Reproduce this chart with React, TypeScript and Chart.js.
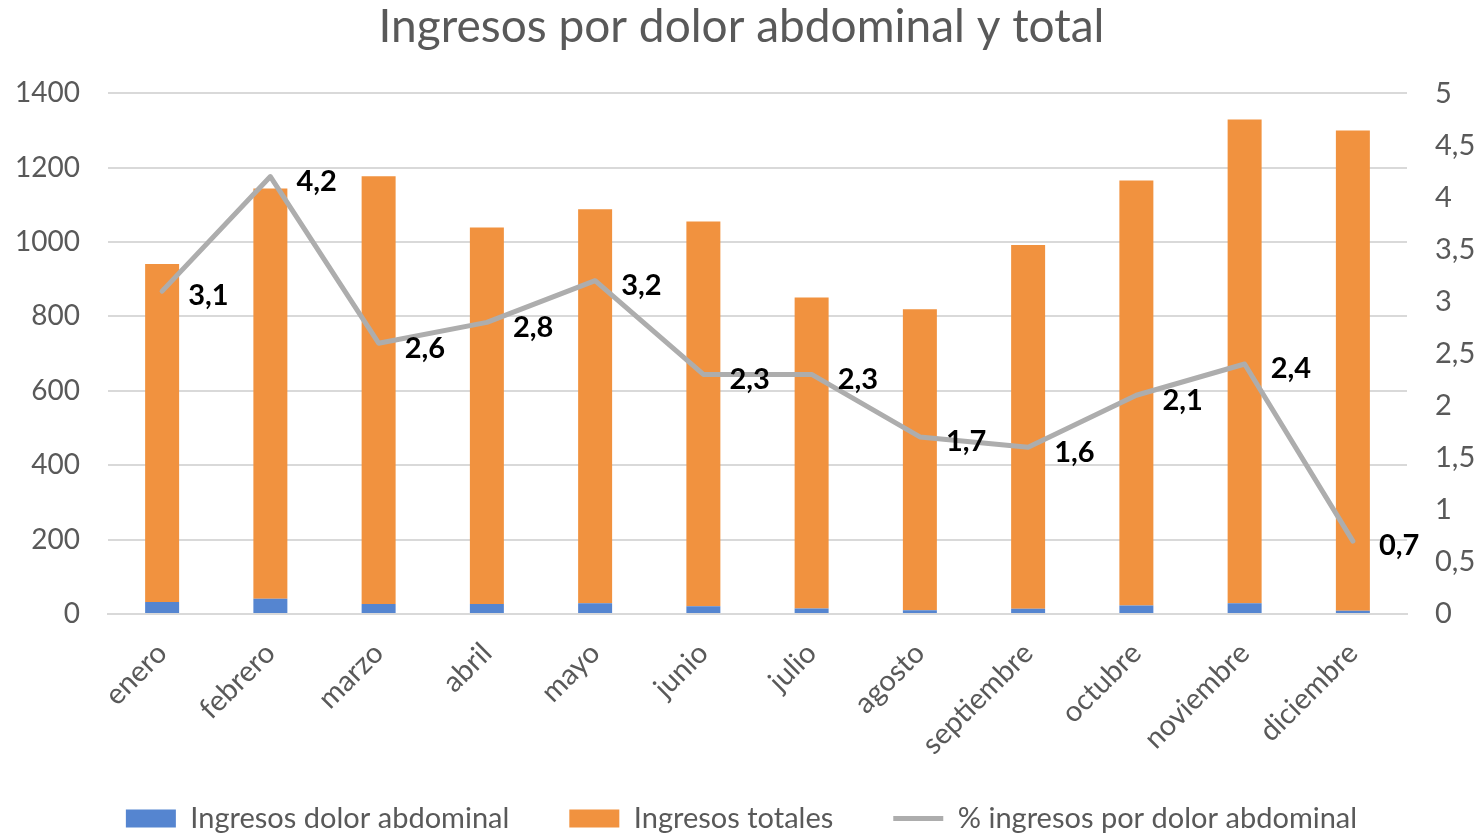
import React, { useEffect, useRef } from "react";
import { Chart, registerables } from "chart.js";

Chart.register(...registerables);

const months = ["enero", "febrero", "marzo", "abril", "mayo", "junio", "julio", "agosto", "septiembre", "octubre", "noviembre", "diciembre"];
const abdominal = [32, 41, 27, 27, 29, 21, 15, 10, 14, 23, 29, 9];
const totales = [909, 1103, 1150, 1012, 1059, 1034, 836, 809, 978, 1142, 1300, 1291];
const porcentaje = [3.1, 4.2, 2.6, 2.8, 3.2, 2.3, 2.3, 1.7, 1.6, 2.1, 2.4, 0.7];
const leftTicks = [0, 200, 400, 600, 800, 1000, 1200, 1400];
const rightTicks = [0, 0.5, 1, 1.5, 2, 2.5, 3, 3.5, 4, 4.5, 5];

const FONT = "Lato, 'Open Sans', sans-serif";
const GREY_TXT = "#595959";

const fmt = (v: number) => String(v).replace(".", ",");

const labelPlugin = {
  id: "lineLabels",
  afterLayout(chart: any) {
    // let rotated month labels extend below the axis box without being clipped
    const x = chart.scales.x;
    if (x) x.bottom = x.top + 220;
  },
  afterDatasetsDraw(chart: any) {
    const meta = chart.getDatasetMeta(2);
    const ds = chart.data.datasets[2];
    const ctx = chart.ctx;
    ctx.save();
    ctx.font = `bold 29px ${FONT}`;
    ctx.fillStyle = "#000000";
    ctx.textAlign = "left";
    ctx.textBaseline = "middle";
    meta.data.forEach((pt: any, i: number) => {
      ctx.fillText(fmt(ds.data[i]), pt.x + 26, pt.y + 5);
    });
    ctx.restore();
  },
};

export default function App() {
  const ref = useRef<HTMLCanvasElement>(null);
  useEffect(() => {
    if (!ref.current) return;
    const chart = new Chart(ref.current, {
      type: "bar",
      data: {
        labels: months,
        datasets: [
          {
            label: "Ingresos dolor abdominal",
            data: abdominal,
            backgroundColor: "#5585D0",
            yAxisID: "y",
            stack: "s",
            order: 1,
            pointStyle: "rect",
            barPercentage: 0.314,
            categoryPercentage: 1,
          } as any,
          {
            label: "Ingresos totales",
            data: totales,
            backgroundColor: "#F1923F",
            yAxisID: "y",
            stack: "s",
            order: 1,
            pointStyle: "rect",
            barPercentage: 0.314,
            categoryPercentage: 1,
          } as any,
          {
            type: "line",
            label: "% ingresos por dolor abdominal",
            data: porcentaje,
            borderColor: "#ADADAD",
            backgroundColor: "#ADADAD",
            borderWidth: 5,
            pointRadius: 0,
            pointStyle: "line",
            borderCapStyle: "round",
            borderJoinStyle: "round",
            yAxisID: "y1",
            order: 0,
            tension: 0,
          } as any,
        ],
      },
      options: {
        animation: false,
        responsive: false,
        layout: { padding: { left: 0, right: 0, top: 0, bottom: -9 } },
        plugins: {
          title: {
            display: true,
            text: "Ingresos por dolor abdominal y total",
            color: GREY_TXT,
            font: { family: FONT, size: 46, weight: "normal" },
            padding: { top: 0, bottom: 38 },
          },
          legend: {
            position: "bottom",
            labels: {
              usePointStyle: true,
              pointStyleWidth: 50,
              boxHeight: 18,
              color: GREY_TXT,
              font: { family: FONT, size: 29 },
              padding: 60,
              sort: (a: any, b: any) => a.datasetIndex - b.datasetIndex,
            },
          },
          tooltip: { enabled: false },
        },
        scales: {
          x: {
            stacked: true,
            grid: { display: false },
            border: { color: "#D9D9D9", width: 2 },
            ticks: {
              color: GREY_TXT,
              font: { family: FONT, size: 29 },
              maxRotation: 45,
              minRotation: 45,
              padding: 14,
            },
            afterFit: (s: any) => {
              s.height = 130;
            },
          },
          y: {
            stacked: true,
            position: "left",
            min: 0,
            max: 1400,
            afterBuildTicks: (s: any) => {
              s.ticks = leftTicks.map((v) => ({ value: v }));
            },
            grid: { color: "#D9D9D9", lineWidth: 2, drawTicks: false },
            border: { display: false },
            ticks: {
              color: GREY_TXT,
              font: { family: FONT, size: 28 },
              padding: 28,
              callback: (v: any) => String(v),
            },
            afterFit: (s: any) => {
              s.width = 108;
            },
          },
          y1: {
            position: "right",
            min: 0,
            max: 5,
            afterBuildTicks: (s: any) => {
              s.ticks = rightTicks.map((v) => ({ value: v }));
            },
            grid: { drawOnChartArea: false, drawTicks: false },
            border: { display: false },
            ticks: {
              color: GREY_TXT,
              font: { family: FONT, size: 29 },
              padding: 28,
              callback: (v: any) => fmt(Number(v)),
            },
            afterFit: (s: any) => {
              s.width = 76;
            },
          },
        },
      },
      plugins: [labelPlugin],
    });
    return () => chart.destroy();
  }, []);
  return (
    <div style={{ position: "absolute", left: 0, top: 0, width: 1483, height: 834, background: "#fff" }}>
      <canvas ref={ref} width={1483} height={834} style={{ width: 1483, height: 834 }} />
    </div>
  );
}
